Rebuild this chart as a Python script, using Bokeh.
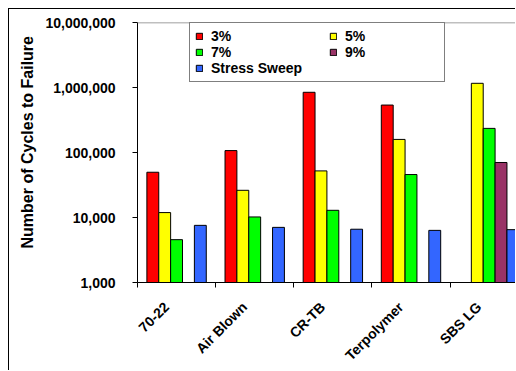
import numpy as np
from bokeh.plotting import figure
from bokeh.models import (Range1d, FixedTicker, NumeralTickFormatter, Legend,
                          LegendItem, Title, Span, ColumnDataSource)
from bokeh.embed import file_html
from bokeh.resources import INLINE

# Cycles to failure per binder, for each strain level and the stress sweep
categories = ["70-22", "Air Blown", "CR-TB", "Terpolymer", "SBS LG"]
series_names = ["3%", "5%", "7%", "9%", "Stress Sweep"]
strain_3 = [49700, 107000, 844000, 537000, None]
strain_5 = [11900, 26200, 52100, 159000, 1160000]
strain_7 = [4560, 10200, 12900, 45800, 235000]
strain_9 = [None, None, None, None, 70200]
stress_sweep = [7570, 7050, 6600, 6340, 6500]
series_values = [strain_3, strain_5, strain_7, strain_9, stress_sweep]
series_colors = ["#FF0000", "#FFFF00", "#00FF00", "#993366", "#3366FF"]
y_ticks = [1000, 10000, 100000, 1000000, 10000000]

FONT = "Liberation Sans"
BAR_W = 0.152
LABEL_SHIFT = 0.13   # rotated category labels end slightly left of the group centre

p = figure(width=507, height=362, output_backend="svg", toolbar_location=None,
           y_axis_type="log", x_range=Range1d(0, 4.85), y_range=Range1d(1000, 1e7),
           min_border_left=127, min_border_top=13, min_border_bottom=89,
           min_border_right=0, margin=(8, 0, 0, 8),
           styles={"border-left": "1px solid black", "border-top": "1px solid black"})
p.outline_line_color = None
p.xgrid.visible = False
p.ygrid.visible = False
p.background_fill_color = "white"
p.border_fill_color = "white"

renderers = {}
for k, (name, vals, col) in enumerate(zip(series_names, series_values, series_colors)):
    idx = [i for i, v in enumerate(vals) if v is not None]
    xs = np.array(idx, dtype=float) + 0.5 + (k - 2) * BAR_W
    src = ColumnDataSource(dict(x=xs, top=[vals[i] for i in idx],
                                cat=[categories[i] for i in idx]))
    renderers[name] = p.vbar(x="x", top="top", bottom=1000, width=BAR_W, source=src,
                             fill_color=col, line_color="black", line_width=1)

# top border of the plot area
p.add_layout(Span(location=1e7, dimension="width", line_color="#808080", line_width=1.5))

# y axis
ya = p.yaxis[0]
ya.ticker = FixedTicker(ticks=y_ticks, minor_ticks=[])
ya.formatter = NumeralTickFormatter(format="0,0")
ya.major_label_text_font = FONT
ya.major_label_text_font_style = "bold"
ya.major_label_text_font_size = "14px"
ya.major_label_text_color = "black"
ya.major_tick_in = 0
ya.major_tick_out = 5
ya.major_label_standoff = 17
ya.axis_line_color = "black"

# x axis: labels near category centres, ticks on category boundaries
label_pos = [i + 0.5 - LABEL_SHIFT for i in range(len(categories))]
xa = p.xaxis[0]
xa.ticker = FixedTicker(ticks=label_pos, minor_ticks=list(range(len(categories) + 1)))
xa.major_label_overrides = {x: c for x, c in zip(label_pos, categories)}
xa.major_label_orientation = np.pi / 4
xa.major_label_text_font = FONT
xa.major_label_text_font_style = "bold"
xa.major_label_text_font_size = "14px"
xa.major_label_text_color = "black"
xa.major_tick_in = 0
xa.major_tick_out = 0
xa.minor_tick_in = 0
xa.minor_tick_out = 5
xa.minor_tick_line_color = "black"
xa.major_label_standoff = 17
xa.axis_line_color = "black"

# y axis title, sitting a little above the middle of the plot height
p.add_layout(Title(text="Number of Cycles to Failure", align="left", offset=34,
                   standoff=14, text_font=FONT, text_font_style="bold",
                   text_font_size="16px", text_color="black"), "left")

# legend: left column carries the frame, right column is laid over it
legend_style = dict(margin=0, padding=5, spacing=0, glyph_width=8, glyph_height=8,
                    label_height=14, label_standoff=8, label_text_font=FONT,
                    label_text_font_style="bold", label_text_font_size="14px",
                    label_text_color="black")
left_col = Legend(items=[LegendItem(label=n, renderers=[renderers[n]])
                         for n in ["3%", "7%", "Stress Sweep"]],
                  location=(52, 200), label_width=228,
                  border_line_color="black", border_line_width=1,
                  background_fill_color="white", background_fill_alpha=1.0,
                  **legend_style)
right_col = Legend(items=[LegendItem(label=n, renderers=[renderers[n]])
                          for n in ["5%", "9%"]],
                   location=(187, 217), border_line_alpha=0.0,
                   background_fill_alpha=0.0, **legend_style)
p.add_layout(left_col)
p.add_layout(right_col)

open("out.html", "w").write(file_html(p, INLINE))
